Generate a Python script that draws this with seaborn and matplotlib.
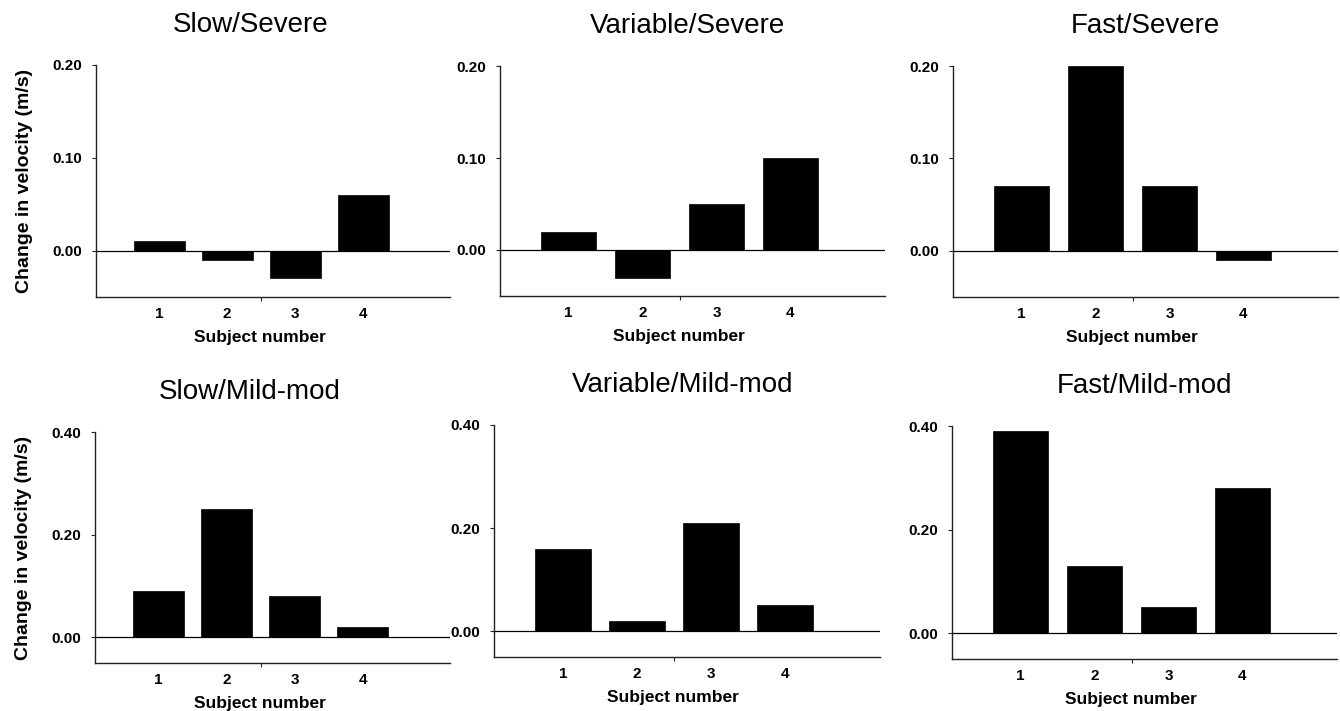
import numpy as np
import pandas as pd
import matplotlib
matplotlib.use("Agg")
import matplotlib.pyplot as plt
import seaborn as sns

# Change in velocity (m/s) per subject
subjects = ["1", "2", "3", "4"]
slow_severe = [0.01, -0.01, -0.03, 0.06]
variable_severe = [0.02, -0.03, 0.05, 0.10]
fast_severe = [0.07, 0.20, 0.07, -0.01]
slow_mild = [0.09, 0.25, 0.08, 0.02]
variable_mild = [0.16, 0.02, 0.21, 0.05]
fast_mild = [0.39, 0.13, 0.05, 0.28]

titles = ["Slow/Severe", "Variable/Severe", "Fast/Severe",
          "Slow/Mild-mod", "Variable/Mild-mod", "Fast/Mild-mod"]
series = [slow_severe, variable_severe, fast_severe,
          slow_mild, variable_mild, fast_mild]
severe_ticks = [0.0, 0.10, 0.20]
mild_ticks = [0.0, 0.20, 0.40]

sns.set_style("ticks")
plt.rcParams['font.family'] = ['Liberation Sans', 'DejaVu Sans']
plt.rcParams['text.color'] = 'black'
plt.rcParams['axes.labelcolor'] = 'black'
plt.rcParams['xtick.color'] = 'black'
plt.rcParams['ytick.color'] = 'black'

W, H = 1340, 711
fig = plt.figure(figsize=(W / 100, H / 100), dpi=100)

# axes boxes in pixels: left, top, right, bottom
boxes = [(96, 65, 450, 297), (500, 66, 885, 296), (953, 66, 1338, 297),
         (95, 432, 450, 663), (494, 425, 880, 657), (952, 426, 1337, 659)]
title_x = [0.437, 0.488, 0.5]

for i, (title, vals, (l, t, r, b)) in enumerate(zip(titles, series, boxes)):
    ax = fig.add_axes([l / W, 1 - b / H, (r - l) / W, (b - t) / H])
    df = pd.DataFrame({"subject": subjects, "change": vals})
    sns.barplot(data=df, x="subject", y="change", color="black", saturation=1,
                width=0.75, edgecolor="black", linewidth=0.5, ax=ax)
    ax.axhline(0, color="black", lw=0.9, zorder=0)

    ticks = severe_ticks if i < 3 else mild_ticks
    ax.set_xlim(-0.93, 4.28)
    ax.set_ylim(-0.05, ticks[-1])
    ax.set_yticks(ticks)
    ax.set_yticklabels([f"{v:.2f}" for v in ticks], fontsize=11, fontweight="bold")
    ax.set_xticks(range(len(subjects)))
    ax.set_xticklabels(subjects, fontsize=11, fontweight="bold")
    ax.set_xticks([1.5], minor=True)

    sns.despine(ax=ax)
    for side in ["left", "bottom"]:
        ax.spines[side].set_linewidth(1.0)
        ax.spines[side].set_color("#222222")
    ax.tick_params(axis="x", which="major", length=0, pad=7)
    ax.tick_params(axis="x", which="minor", length=3, width=0.8, color="#222222")
    ax.tick_params(axis="y", length=3, width=0.8, pad=7, color="#222222")

    ax.set_xlabel("Subject number", fontsize=12.5, fontweight="bold",
                  labelpad=7, x=0.464)
    if i % 3 == 0:
        ax.set_ylabel("Change in velocity (m/s)", fontsize=14, fontweight="bold",
                      labelpad=14)
    else:
        ax.set_ylabel("")
    ax.set_title(title, fontsize=20, pad=24, x=title_x[i % 3])

fig.savefig("out.png", dpi=100)
